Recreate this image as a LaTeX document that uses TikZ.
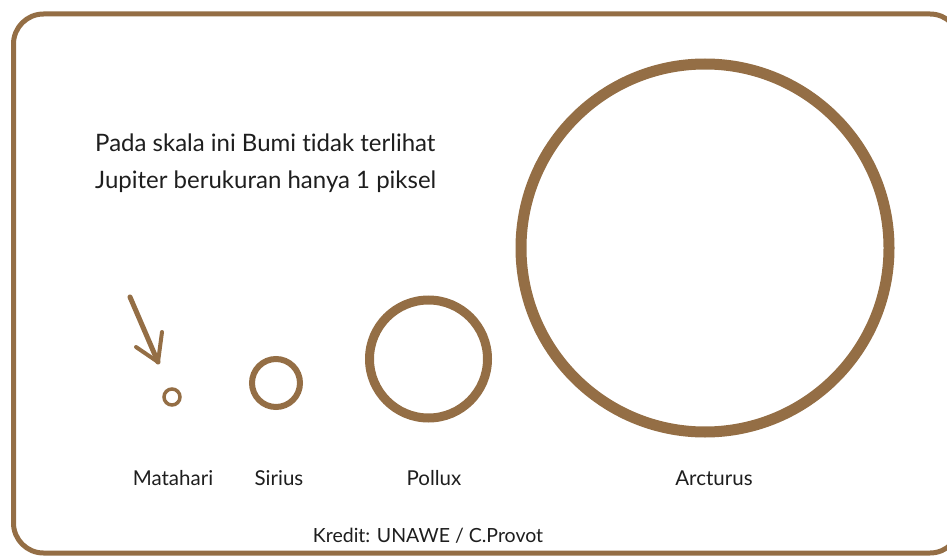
\documentclass[tikz,border=0pt]{standalone}
\usepackage{fontspec}
\setmainfont{Lato}[Ligatures={NoCommon}]
\definecolor{brn}{HTML}{946E45}
\definecolor{ink}{HTML}{1E1E1E}
\tikzset{
  star/.style={circle, draw=brn, inner sep=0pt},
  lbl/.style={text=ink, font=\fontsize{20.5}{24}\selectfont, inner sep=0pt, anchor=base},
  note/.style={text=ink, font=\fontsize{24}{28}\selectfont, inner sep=0pt, anchor=base west},
}
\begin{document}
\begin{tikzpicture}[x=1pt,y=-1pt]
\useasboundingbox (0,0) rectangle (947,556);
\begin{scope}
\clip (0,0) rectangle (947,556);
\draw[brn, line width=5pt, rounded corners=30pt] (13.5,14) rectangle (960,553);
\end{scope}
\node[note] (l1) at (95,152) {Pada skala ini Bumi tidak terlihat};
\node[note] (l2) at (95,189) {Jupiter berukuran hanya 1 piksel};
\node[star, line width=3.5pt, minimum size=16pt] (matahari) at (172,397) {};
\node[star, line width=6pt, minimum size=48pt] (sirius) at (276,383) {};
\node[star, line width=9pt, minimum size=118pt] (pollux) at (428.5,359) {};
\node[star, line width=11pt, minimum size=368pt] (arcturus) at (705,248) {};
\coordinate (a0) at (130,297);
\coordinate (tip) at (158,362);
\coordinate (bl) at (136,347);
\coordinate (br) at (162,332);
\draw[brn, line width=5pt, line cap=round, line join=round] (a0) -- (tip);
\draw[brn, line width=4pt, line cap=round, line join=round] (bl) -- (tip) -- (br);
\node[lbl] (tm) at (173,485) {Matahari};
\node[lbl] (ts) at (279,485) {Sirius};
\node[lbl] (tp) at (434,485) {Pollux};
\node[lbl] (ta) at (714,485) {Arcturus};
\node[lbl, font=\fontsize{19.5}{23}\selectfont] (kr) at (428,542) {Kredit: UNAWE / C.Provot};
\end{tikzpicture}
\end{document}
